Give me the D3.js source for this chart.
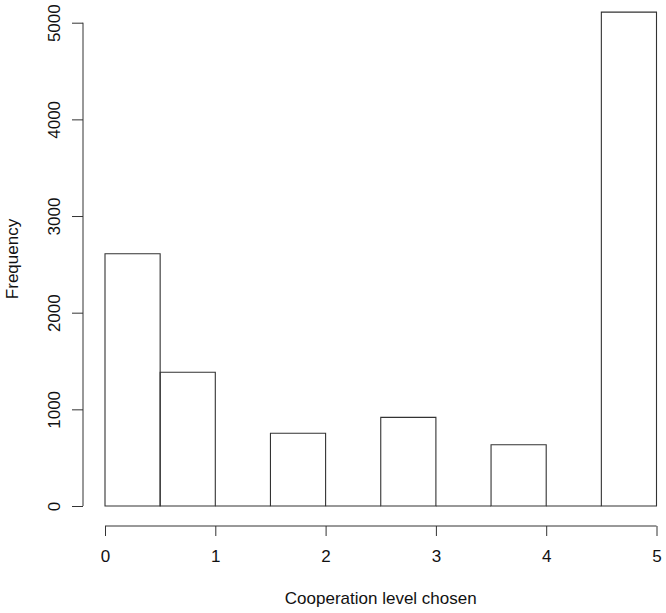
<!DOCTYPE html>
<html><head><meta charset="utf-8">
<script src="https://cdn.jsdelivr.net/npm/d3@7"></script>
<style>body{margin:0;background:#fff}svg{display:block}text{font-family:"Liberation Sans",Arial,sans-serif;fill:#111}</style>
</head><body>
<script>
const binStarts = [0, 0.5, 1, 1.5, 2, 2.5, 3, 3.5, 4, 4.5];
const binWidth = 0.5;
const counts = [2610, 1383, 0, 752, 0, 917, 0, 634, 0, 5109];
const xTicks = [0, 1, 2, 3, 4, 5];
const yTicks = [0, 1000, 2000, 3000, 4000, 5000];
const xLabel = "Cooperation level chosen";
const yLabel = "Frequency";

const W = 666, H = 613;
const svg = d3.select("body").append("svg").attr("width", W).attr("height", H);
const x = d3.scaleLinear().domain([0, 5]).range([105, 656.5]);
const y = d3.scaleLinear().domain([0, 5000]).range([506, 22.7]);
const stroke = "#333";

svg.append("g").selectAll("path").data(binStarts).join("path")
  .attr("d", (d, i) => {
    const x0 = x(d), x1 = x(d + binWidth), y0 = y(0), y1 = y(counts[i]);
    return `M${x0},${y0}V${y1}H${x1}V${y0}Z`;
  })
  .attr("fill", "none").attr("stroke", stroke).attr("stroke-width", 1.1);

// x axis
const gx = svg.append("g").attr("transform", "translate(0,526)")
  .call(d3.axisBottom(x).tickValues(xTicks).tickFormat(d3.format("d")).tickSize(10).tickPadding(14));
gx.select(".domain").attr("stroke", stroke).attr("d", `M${x(0)},0H${x(5)}`);
gx.selectAll(".tick line").attr("stroke", stroke);
gx.selectAll("text").style("font-size", "17px").attr("fill", "#111");

// y axis
const gy = svg.append("g").attr("transform", "translate(83,0)")
  .call(d3.axisLeft(y).tickValues(yTicks).tickFormat(d3.format("d")).tickSize(11));
gy.select(".domain").attr("stroke", stroke).attr("d", `M0,${y(0)}V${y(5000)}`);
gy.selectAll(".tick line").attr("stroke", stroke);
gy.selectAll(".tick text")
  .attr("x", null).attr("dy", null)
  .attr("transform", "translate(-23,0) rotate(-90)")
  .attr("text-anchor", "middle")
  .style("font-size", "17px").attr("fill", "#111");

svg.append("text").attr("x", x(2.5)).attr("y", 604).attr("text-anchor", "middle")
  .style("font-size", "17px").text(xLabel);
svg.append("text").attr("transform", "translate(18,259) rotate(-90)").attr("text-anchor", "middle")
  .style("font-size", "17px").text(yLabel);
</script>
</body></html>
